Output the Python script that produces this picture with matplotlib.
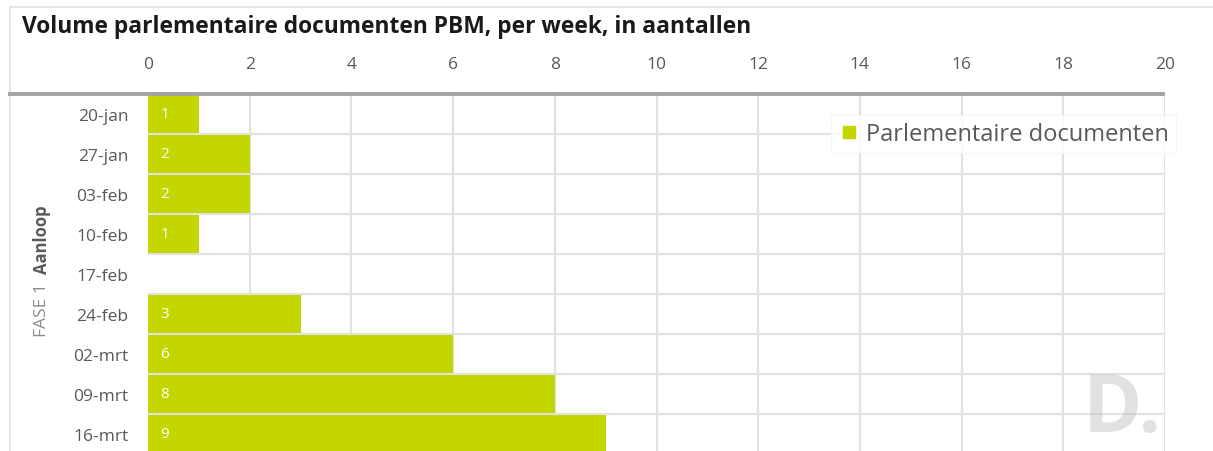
import matplotlib
matplotlib.use("Agg")
import matplotlib.pyplot as plt
from matplotlib.lines import Line2D

plt.rcParams["font.family"] = ["Open Sans", "DejaVu Sans"]

# data
weeks = ["20-jan", "27-jan", "03-feb", "10-feb", "17-feb", "24-feb", "02-mrt", "09-mrt", "16-mrt"]
counts = [1, 2, 2, 1, 0, 3, 6, 8, 9]
x_ticks = [0, 2, 4, 6, 8, 10, 12, 14, 16, 18, 20]

GREEN = "#c4d600"
GRID = "#e2e2e2"
TXT = "#595959"

W, H = 1213, 452
fig = plt.figure(figsize=(W / 100, H / 100), dpi=100)


def fx(px):
    return px / W


def fy(py):
    return 1 - py / H


ax = fig.add_axes([fx(148), fy(455), fx(1165) - fx(148), fy(95) - fy(455)])
ypos = list(range(len(weeks)))
ax.barh(ypos, counts, height=0.93, color=GREEN, zorder=3)
for y, v in zip(ypos, counts):
    ax.annotate(str(v), (0, y), xytext=(9, 0), textcoords="offset points",
                ha="left", va="center", color="white", fontsize=11, zorder=4)

ax.set_xlim(0, 20)
ax.set_ylim(len(weeks) - 0.5, -0.5)
ax.xaxis.tick_top()
ax.set_xticks(x_ticks)
ax.set_xticklabels([str(t) for t in x_ticks])
ax.set_yticks(ypos)
ax.set_yticklabels(weeks)
ax.set_yticks([y + 0.5 for y in ypos[:-1]], minor=True)
ax.tick_params(axis="x", length=0, pad=16, labelsize=12.5, colors=TXT)
ax.tick_params(axis="y", which="both", length=0, pad=14, labelsize=12.5, colors=TXT)
ax.grid(axis="x", color=GRID, lw=1.6, zorder=0)
ax.grid(axis="y", which="minor", color=GRID, lw=1.6, zorder=0)
ax.xaxis.get_gridlines()[0].set_visible(False)
for s in ax.spines.values():
    s.set_visible(False)

# legend
handle = Line2D([], [], marker="s", linestyle="none", color=GREEN, markersize=9)
leg = ax.legend([handle], ["Parlementaire documenten"], loc="upper right",
                bbox_to_anchor=(fx(1188), fy(104)), bbox_transform=fig.transFigure,
                frameon=True, fancybox=False, fontsize=17, labelcolor=TXT,
                handletextpad=0.3, handlelength=0.9, borderpad=0.3)
leg.get_frame().set_edgecolor("#f4f4f4")
leg.get_frame().set_linewidth(0.8)
leg.set_zorder(5)

# frame lines and header rule
fig.add_artist(Line2D([fx(10), fx(10)], [fy(8), 0], color=GRID, lw=1.2))
fig.add_artist(Line2D([fx(10), 1], [fy(8), fy(8)], color=GRID, lw=1.2))
fig.add_artist(Line2D([fx(10), fx(1163)], [fy(95), fy(95)], color="#a3a3a3", lw=2.8))

fig.text(fx(22), fy(27), "Volume parlementaire documenten PBM, per week, in aantallen",
         fontsize=16.4, fontweight="bold", color="#1a1a1a", ha="left", va="center")

# group label
fig.text(fx(42), fy(310), "FASE 1", rotation=90, ha="center", va="center",
         fontsize=12.5, color="#8c8c8c")
fig.text(fx(42), fy(240), "Aanloop", rotation=90, ha="center", va="center",
         fontsize=12, color="#595959", fontweight="bold")

# watermark
fig.text(fx(1083), 0.002, "D.", fontsize=58, fontweight="bold", color="#bdbdbd",
         alpha=0.45, ha="left", va="bottom", zorder=10)

fig.savefig("out.png", dpi=100)
